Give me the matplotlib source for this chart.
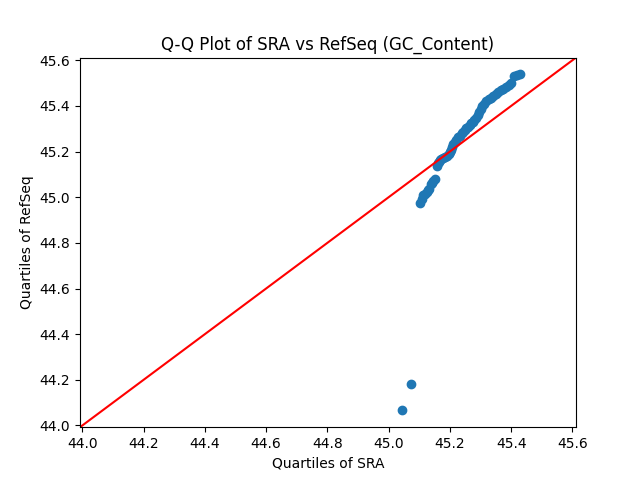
import matplotlib
matplotlib.use('agg')
import matplotlib.pyplot as plt
import numpy as np

# quantiles (SRA on x, RefSeq on y)
sra_q = [45.044, 45.073,
         45.102, 45.108, 45.113, 45.119, 45.124, 45.128, 45.132, 45.137, 45.140, 45.146, 45.151,
         45.158, 45.160, 45.164, 45.167, 45.172, 45.178, 45.183, 45.190, 45.196, 45.200,
         45.203, 45.206, 45.210, 45.215, 45.220, 45.226, 45.232, 45.238, 45.242, 45.248,
         45.254, 45.259, 45.265, 45.270, 45.275, 45.280, 45.286, 45.291, 45.296, 45.300,
         45.304, 45.310, 45.318, 45.326, 45.334, 45.342, 45.350, 45.358, 45.366, 45.374,
         45.383, 45.392, 45.400, 45.408, 45.420, 45.430]
refseq_q = [44.066, 44.180,
            44.975, 44.992, 45.009, 45.016, 45.023, 45.030, 45.038, 45.058, 45.063, 45.072, 45.080,
            45.136, 45.148, 45.156, 45.162, 45.166, 45.170, 45.175, 45.180, 45.188, 45.196,
            45.206, 45.218, 45.232, 45.240, 45.250, 45.262, 45.270, 45.280, 45.286, 45.295,
            45.302, 45.308, 45.316, 45.324, 45.330, 45.338, 45.348, 45.358, 45.372, 45.386,
            45.398, 45.410, 45.422, 45.430, 45.436, 45.442, 45.450, 45.460, 45.468, 45.475,
            45.482, 45.492, 45.502, 45.530, 45.536, 45.538]

fig, ax = plt.subplots(figsize=(6.4, 4.8), dpi=100)
ax.scatter(sra_q, refseq_q)

# 45 degree reference line spanning both axes
xlim = ax.get_xlim()
ylim = ax.get_ylim()
lo = min(xlim[0], ylim[0])
hi = max(xlim[1], ylim[1])
ax.plot([lo, hi], [lo, hi], color='r')
ax.set_xlim(lo, hi)
ax.set_ylim(lo, hi)

ax.set_title('Q-Q Plot of SRA vs RefSeq (GC_Content)')
ax.set_xlabel('Quartiles of SRA')
ax.set_ylabel('Quartiles of RefSeq')

fig.savefig('out.png')
plt.close(fig)
